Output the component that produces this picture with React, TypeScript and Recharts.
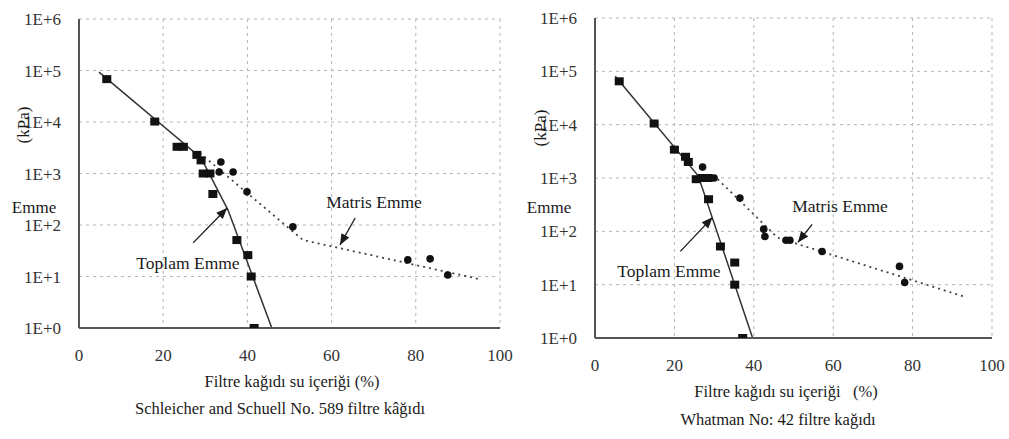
import React from 'react';
import { ComposedChart, Line, Scatter, XAxis, YAxis, CartesianGrid } from 'recharts';

// --- Schleicher and Schuell No. 589 (left) ---
const ssToplamPts = [
  { x: 6.6, y: 68000 }, { x: 18, y: 10200 }, { x: 23.3, y: 3300 }, { x: 24.8, y: 3300 },
  { x: 28, y: 2300 }, { x: 29, y: 1800 }, { x: 29.5, y: 1000 }, { x: 31.1, y: 1000 },
  { x: 31.8, y: 400 }, { x: 37.5, y: 51 }, { x: 40.1, y: 26 }, { x: 40.9, y: 10 }, { x: 41.6, y: 1 },
];
const ssMatrisPts = [
  { x: 33.7, y: 1670 }, { x: 33.3, y: 1070 }, { x: 36.6, y: 1070 }, { x: 39.9, y: 440 },
  { x: 50.8, y: 92 }, { x: 78.1, y: 21 }, { x: 83.4, y: 22 }, { x: 87.6, y: 10.7 },
];
const ssToplamLine = [{ x: 4.75, y: 93000 }, { x: 29, y: 2000 }, { x: 35.4, y: 195 }, { x: 45.8, y: 1 }];
const ssMatrisLine = [{ x: 28.7, y: 2500 }, { x: 53.2, y: 51 }, { x: 94.8, y: 9 }];
const ssToplamArrow = [{ x: 27.1, y: 45 }, { x: 35.2, y: 214 }];
const ssMatrisArrow = [{ x: 65.6, y: 137 }, { x: 62, y: 41 }];

// --- Whatman No: 42 (right) ---
const wmToplamPts = [
  { x: 6.1, y: 65000 }, { x: 14.9, y: 10500 }, { x: 20, y: 3400 }, { x: 22.8, y: 2500 },
  { x: 23.5, y: 2000 }, { x: 25.5, y: 950 }, { x: 27, y: 1000 }, { x: 28.5, y: 1000 },
  { x: 28.6, y: 400 }, { x: 31.6, y: 52 }, { x: 35.2, y: 26 }, { x: 35.2, y: 10 }, { x: 37.2, y: 1 },
];
const wmMatrisPts = [
  { x: 27.1, y: 1600 }, { x: 30, y: 1000 }, { x: 36.5, y: 420 }, { x: 42.5, y: 110 },
  { x: 42.8, y: 80 }, { x: 48.1, y: 68 }, { x: 49.1, y: 68 }, { x: 57.2, y: 42 },
  { x: 76.7, y: 22 }, { x: 78, y: 11 },
];
const wmToplamLine = [{ x: 5.1, y: 81000 }, { x: 26, y: 1100 }, { x: 39.7, y: 1 }];
const wmMatrisLine = [{ x: 30.9, y: 950 }, { x: 46, y: 76 }, { x: 93.2, y: 5.9 }];
const wmToplamArrow = [{ x: 21.5, y: 42 }, { x: 29.6, y: 183 }];
const wmMatrisArrow = [{ x: 54.7, y: 135 }, { x: 51.1, y: 62 }];

const xTicks = [0, 20, 40, 60, 80, 100];
const yTicks = [1, 10, 100, 1000, 10000, 100000, 1000000];

const FONT = '"Liberation Serif", "DejaVu Serif", serif';
const INK = '#1a1a1a';

const fmtE = (v: number) => `1E+${Math.round(Math.log10(v))}`;

const squareShape = (p: any) => <rect x={p.cx - 4.5} y={p.cy - 4} width={9} height={8} fill="#111" />;
const circleShape = (p: any) => <circle cx={p.cx} cy={p.cy} r={3.8} fill="#111" />;

const arrowDot = (angle: number) => (p: any) =>
  p.index === 1 ? (
    <polygon
      key={`ah-${p.index}`}
      points="0,0 -11,-4.5 -11,4.5"
      fill={INK}
      transform={`translate(${p.cx},${p.cy}) rotate(${angle})`}
    />
  ) : (
    <g key={`ad-${p.index}`} />
  );

interface PanelProps {
  width: number;
  margin: { top: number; right: number; left: number; bottom: number };
  toplamPts: { x: number; y: number }[];
  matrisPts: { x: number; y: number }[];
  toplamLine: { x: number; y: number }[];
  matrisLine: { x: number; y: number }[];
  toplamArrow: { x: number; y: number }[];
  matrisArrow: { x: number; y: number }[];
  tAngle: number;
  mAngle: number;
}

function Panel(props: PanelProps) {
  const tick = { fontSize: 17, fill: '#333', fontFamily: FONT };
  return (
    <ComposedChart width={props.width} height={439} margin={props.margin}>
      <CartesianGrid stroke="#b5b5b5" strokeDasharray="3 4" />
      <XAxis
        type="number"
        dataKey="x"
        domain={[0, 100]}
        ticks={xTicks}
        height={30}
        tick={tick}
        tickLine={false}
        tickMargin={15}
        axisLine={{ stroke: '#555', strokeWidth: 2 }}
      />
      <YAxis
        type="number"
        dataKey="y"
        scale="log"
        domain={[1, 1000000]}
        allowDataOverflow
        ticks={yTicks}
        tickFormatter={fmtE}
        width={60}
        tick={tick}
        tickLine={false}
        tickMargin={12}
        axisLine={{ stroke: '#555', strokeWidth: 2 }}
      />
      <Line data={props.toplamLine} dataKey="y" type="linear" stroke="#333" strokeWidth={1.5} dot={false} isAnimationActive={false} />
      <Line data={props.matrisLine} dataKey="y" type="linear" stroke="#444" strokeWidth={1.8} strokeDasharray="2 4" dot={false} isAnimationActive={false} />
      <Line data={props.toplamArrow} dataKey="y" type="linear" stroke={INK} strokeWidth={1.3} dot={arrowDot(props.tAngle)} isAnimationActive={false} />
      <Line data={props.matrisArrow} dataKey="y" type="linear" stroke={INK} strokeWidth={1.3} dot={arrowDot(props.mAngle)} isAnimationActive={false} />
      <Scatter data={props.toplamPts} dataKey="y" shape={squareShape} isAnimationActive={false} />
      <Scatter data={props.matrisPts} dataKey="y" shape={circleShape} isAnimationActive={false} />
    </ComposedChart>
  );
}

const txt = (left: number, top: number, size: number): React.CSSProperties => ({
  position: 'absolute',
  left,
  top,
  transform: 'translate(-50%, -50%)',
  fontFamily: FONT,
  fontSize: size,
  lineHeight: 1,
  color: INK,
  whiteSpace: 'pre',
});

export default function App() {
  return (
    <div style={{ position: 'absolute', left: 0, top: 0, width: 1009, height: 439, background: '#fff', overflow: 'hidden' }}>
      <div style={{ position: 'absolute', left: 0, top: 0 }}>
        <Panel
          width={520}
          margin={{ top: 19, right: 20, left: 19, bottom: 81 }}
          toplamPts={ssToplamPts}
          matrisPts={ssMatrisPts}
          toplamLine={ssToplamLine}
          matrisLine={ssMatrisLine}
          toplamArrow={ssToplamArrow}
          matrisArrow={ssMatrisArrow}
          tAngle={-46}
          mAngle={119}
        />
      </div>
      <div style={{ position: 'absolute', left: 520, top: 0 }}>
        <Panel
          width={489}
          margin={{ top: 18, right: 17, left: 15, bottom: 71 }}
          toplamPts={wmToplamPts}
          matrisPts={wmMatrisPts}
          toplamLine={wmToplamLine}
          matrisLine={wmMatrisLine}
          toplamArrow={wmToplamArrow}
          matrisArrow={wmMatrisArrow}
          tAngle={-47}
          mAngle={128}
        />
      </div>

      {/* left panel texts */}
      <div style={txt(34, 207, 17)}>Emme</div>
      <div style={{ ...txt(23, 125, 17), transform: 'translate(-50%, -50%) rotate(-90deg)' }}>(kPa)</div>
      <div style={txt(188, 264, 17.5)}>Toplam Emme</div>
      <div style={txt(374, 203, 17.5)}>Matris Emme</div>
      <div style={txt(292, 382, 16.5)}>Filtre kağıdı su içeriği (%)</div>
      <div style={txt(280, 409, 16.5)}>Schleicher and Schuell No. 589 filtre kâğıdı</div>

      {/* right panel texts */}
      <div style={txt(549, 207, 17)}>Emme</div>
      <div style={{ ...txt(540, 128, 17), transform: 'translate(-50%, -50%) rotate(-90deg)' }}>(kPa)</div>
      <div style={txt(669, 272, 17.5)}>Toplam Emme</div>
      <div style={txt(840, 207, 17.5)}>Matris Emme</div>
      <div style={txt(786, 392, 16.5)}>Filtre kağıdı su içeriği   (%)</div>
      <div style={txt(778, 420, 16.5)}>Whatman No: 42 filtre kağıdı</div>
    </div>
  );
}
